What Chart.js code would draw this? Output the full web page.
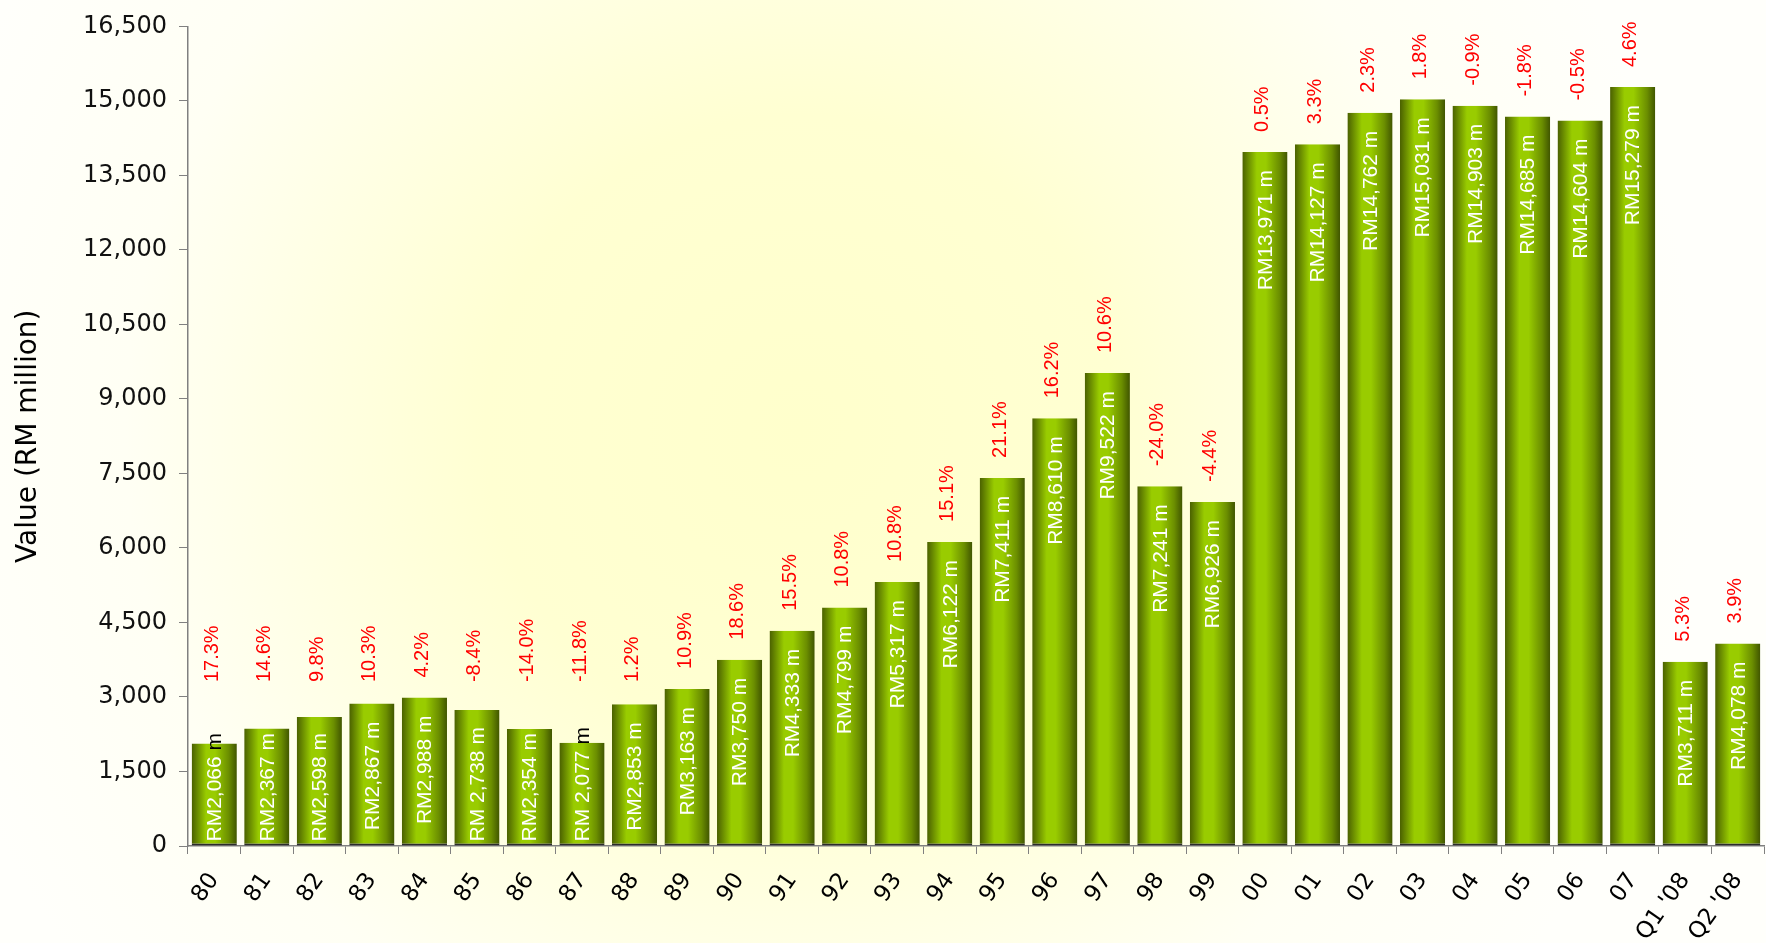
<!DOCTYPE html>
<html>
<head>
<meta charset="utf-8">
<script src="https://cdn.jsdelivr.net/npm/chart.js@4.4.0/dist/chart.umd.min.js"></script>
<style>
  html, body { margin: 0; padding: 0; background: #fffffa; }
  #wrap { width: 1766px; height: 943px; position: relative; }
</style>
</head>
<body>
<div id="wrap"><canvas id="barChartValue"></canvas></div>
<script>
// data
var categories = ['80', '81', '82', '83', '84', '85', '86', '87', '88', '89',
    '90', '91', '92', '93', '94', '95', '96', '97', '98', '99',
    '00', '01', '02', '03', '04', '05', '06', '07', "Q1 '08", "Q2 '08"];
var values = [2066, 2367, 2598, 2867, 2988, 2738, 2354, 2077, 2853, 3163,
    3750, 4333, 4799, 5317, 6122, 7411, 8610, 9522, 7241, 6926,
    13971, 14127, 14762, 15031, 14903, 14685, 14604, 15279, 3711, 4078];
var valueLabels = ['RM2,066 m', 'RM2,367 m', 'RM2,598 m', 'RM2,867 m', 'RM2,988 m', 'RM 2,738 m', 'RM2,354 m', 'RM 2,077 m', 'RM2,853 m', 'RM3,163 m',
    'RM3,750 m', 'RM4,333 m', 'RM4,799 m', 'RM5,317 m', 'RM6,122 m', 'RM7,411 m', 'RM8,610 m', 'RM9,522 m', 'RM7,241 m', 'RM6,926 m',
    'RM13,971 m', 'RM14,127 m', 'RM14,762 m', 'RM15,031 m', 'RM14,903 m', 'RM14,685 m', 'RM14,604 m', 'RM15,279 m', 'RM3,711 m', 'RM4,078 m'];
var growthLabels = ['17.3%', '14.6%', '9.8%', '10.3%', '4.2%', '-8.4%', '-14.0%', '-11.8%', '1.2%', '10.9%',
    '18.6%', '15.5%', '10.8%', '10.8%', '15.1%', '21.1%', '16.2%', '10.6%', '-24.0%', '-4.4%',
    '0.5%', '3.3%', '2.3%', '1.8%', '-0.9%', '-1.8%', '-0.5%', '4.6%', '5.3%', '3.9%'];
var yMin = 0, yMax = 16500, yStep = 1500;

var axisFont = "'DejaVu Sans', sans-serif";
var labelFont = "21px 'Liberation Sans', Arial, sans-serif";
var growthFont = "20px 'Liberation Sans', Arial, sans-serif";
var barPct = 0.86;

// soft yellow glow behind everything
var backgroundGlow = {
    id: 'backgroundGlow',
    beforeDraw: function (chart) {
        var ctx = chart.ctx;
        ctx.save();
        var g = ctx.createRadialGradient(800, 430, 0, 800, 430, 900);
        g.addColorStop(0, '#ffffcc');
        g.addColorStop(0.35, '#ffffd2');
        g.addColorStop(0.75, '#fffff4');
        g.addColorStop(1, '#fffffb');
        ctx.fillStyle = g;
        ctx.fillRect(0, 0, chart.width, chart.height);
        ctx.restore();
    }
};

// rotated value labels inside the bars and red growth labels above them
var barLabels = {
    id: 'barLabels',
    afterDatasetsDraw: function (chart) {
        var ctx = chart.ctx;
        var meta = chart.getDatasetMeta(0);
        var capY = chart.scales.y.getPixelForValue(3300);
        ctx.save();
        ctx.textAlign = 'left';
        ctx.textBaseline = 'middle';
        meta.data.forEach(function (bar, i) {
            ctx.font = labelFont;
            var full = valueLabels[i];
            var w = ctx.measureText(full).width;
            var endY = Math.min(bar.y + 18, bar.base - 4 - w);
            var cut = full.lastIndexOf(' ');
            var main = full.slice(0, cut), suffix = full.slice(cut);
            ctx.save();
            ctx.translate(bar.x, endY + w);
            ctx.rotate(-Math.PI / 2);
            ctx.fillStyle = '#ffffff';
            ctx.fillText(main, 0, 1);
            ctx.fillStyle = endY < bar.y ? '#000000' : '#ffffff';
            ctx.fillText(suffix, ctx.measureText(main).width, 1);
            ctx.restore();

            ctx.font = growthFont;
            var gy = Math.min(bar.y - 20, capY);
            ctx.save();
            ctx.translate(bar.x - 3, gy);
            ctx.rotate(-Math.PI / 2);
            ctx.fillStyle = '#ff0000';
            ctx.fillText(growthLabels[i], 0, 1);
            ctx.restore();
        });
        ctx.restore();
    }
};

function barGradient(context) {
    var chart = context.chart;
    var xs = chart.scales.x;
    if (!xs || context.type !== 'data' || !xs.width) return '#99cc00';
    var cx = xs.getPixelForValue(context.dataIndex);
    var w = xs.width / categories.length * barPct;
    if (!isFinite(cx) || !isFinite(w)) return '#99cc00';
    var g = chart.ctx.createLinearGradient(cx - w / 2, 0, cx + w / 2, 0);
    g.addColorStop(0, '#4a6000');
    g.addColorStop(0.32, '#99cc00');
    g.addColorStop(0.52, '#99cc00');
    g.addColorStop(0.82, '#6b8e00');
    g.addColorStop(1, '#405500');
    return g;
}

new Chart(document.getElementById('barChartValue').getContext('2d'), {
    type: 'bar',
    data: {
        labels: categories,
        datasets: [{
            label: 'Value', data: values,
            backgroundColor: barGradient,
            borderColor: '#2b2b2b',
            borderWidth: { top: 0, left: 0, right: 0, bottom: 2 },
            borderSkipped: false,
            barPercentage: barPct, categoryPercentage: 1
        }]
    },
    options: {
        responsive: true, maintainAspectRatio: false, animation: false,
        layout: { padding: { top: 20, right: 2, left: 0, bottom: 0 } },
        plugins: { legend: { display: false }, tooltip: { enabled: false } },
        scales: {
            x: {
                grid: { display: true, drawOnChartArea: false, offset: true, tickLength: 8, color: '#808080' },
                border: { color: '#808080', width: 1.5 },
                ticks: {
                    minRotation: 55, maxRotation: 55, padding: 14, color: '#000',
                    font: { family: axisFont, size: 23 }
                },
                afterFit: function (s) {
                    s.height = 97;
                    s.paddingLeft = 0;
                    s.paddingRight = 0;
                }
            },
            y: {
                min: yMin, max: yMax,
                grid: { drawOnChartArea: false, tickLength: 9, color: '#808080' },
                border: { color: '#808080', width: 1.5 },
                ticks: {
                    stepSize: yStep, padding: 12, color: '#111',
                    font: { family: axisFont, size: 24 },
                    callback: function (v) { return v.toLocaleString('en-US'); }
                },
                title: {
                    display: true, text: 'Value (RM million)', color: '#000',
                    font: { family: axisFont, size: 28 },
                    padding: { top: 12, bottom: 0 }
                },
                afterFit: function (s) { s.width = 188; }
            }
        }
    },
    plugins: [backgroundGlow, barLabels]
});
</script>
</body>
</html>
